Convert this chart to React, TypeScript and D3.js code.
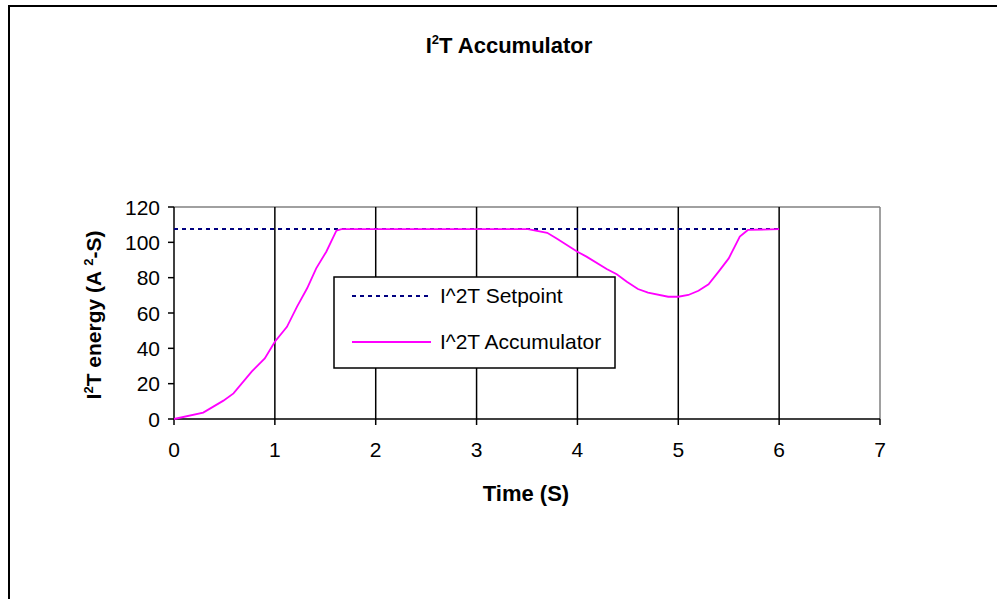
import React from "react";
import * as d3 from "d3";

const timeValues = [0, 0.29, 0.39, 0.49, 0.59, 0.77, 0.9, 1.0, 1.12, 1.22, 1.32, 1.41, 1.51, 1.61, 1.66, 2.0, 3.0, 3.51, 3.7, 3.79, 4.0, 4.09, 4.29, 4.39, 4.49, 4.6, 4.7, 4.9, 5.0, 5.1, 5.2, 5.3, 5.4, 5.5, 5.61, 5.69, 6.0];
const accumulatorValues = [0, 3.6, 7, 10.4, 14.5, 26.8, 34.3, 43.7, 52.2, 63.6, 74, 85.3, 94.7, 106.6, 107.5, 107.5, 107.5, 107.5, 105.4, 102.3, 94.7, 91.9, 84.9, 81.9, 77.7, 73.6, 71.5, 69.2, 69.2, 70.2, 72.6, 76.2, 83.4, 90.9, 103.2, 107, 107.5];
const setpointTimes = [0, 6];
const setpointValues = [107.5, 107.5];
const xTicks = [0, 1, 2, 3, 4, 5, 6, 7];
const yTicks = [0, 20, 40, 60, 80, 100, 120];
const gridTimes = [1, 2, 3, 4, 5, 6];
const seriesNames = ["I^2T Setpoint", "I^2T Accumulator"];

const FONT = "'Liberation Sans', Arial, sans-serif";

export default function App() {
  const left = 174, right = 880, top = 207, bottom = 419;
  const x = d3.scaleLinear().domain([0, 7]).range([left, right]);
  const y = d3.scaleLinear().domain([0, 120]).range([bottom, top]);
  const line = d3.line<[number, number]>().x((d) => x(d[0])).y((d) => y(d[1]));
  const accPts: [number, number][] = timeValues.map((t, i) => [t, accumulatorValues[i]]);
  const setPts: [number, number][] = setpointTimes.map((t, i) => [t, setpointValues[i]]);

  return (
    <svg width={997} height={599} style={{ position: "absolute", left: 0, top: 0 }} fontFamily={FONT}>
      <rect x={0} y={0} width={997} height={599} fill="white" />
      <rect x={9} y={6} width={1100} height={700} fill="none" stroke="black" strokeWidth={2} />
      <text x={509} y={53} textAnchor="middle" fontSize={22} fontWeight="bold">
        I<tspan fontSize={13} dy={-9}>2</tspan><tspan dy={9}>T Accumulator</tspan>
      </text>
      {/* plot frame */}
      <line x1={left} x2={right} y1={top} y2={top} stroke="#808080" strokeWidth={1.5} />
      <line x1={right} x2={right} y1={top} y2={bottom} stroke="#808080" strokeWidth={1.5} />
      {gridTimes.map((t) => (
        <line key={t} x1={x(t)} x2={x(t)} y1={top} y2={bottom} stroke="black" strokeWidth={1.5} />
      ))}
      {/* axes */}
      <line x1={left} x2={left} y1={top} y2={bottom} stroke="black" strokeWidth={1.5} />
      <line x1={left} x2={right} y1={bottom} y2={bottom} stroke="black" strokeWidth={1.5} />
      {yTicks.map((v) => (
        <g key={v}>
          <line x1={left - 6} x2={left} y1={y(v)} y2={y(v)} stroke="black" strokeWidth={1.5} />
          <text x={left - 14} y={y(v) + 7.5} textAnchor="end" fontSize={21}>{v}</text>
        </g>
      ))}
      {xTicks.map((v) => (
        <g key={v}>
          <line x1={x(v)} x2={x(v)} y1={bottom} y2={bottom + 6} stroke="black" strokeWidth={1.5} />
          <text x={x(v)} y={bottom + 38} textAnchor="middle" fontSize={21}>{v}</text>
        </g>
      ))}
      {/* series */}
      <path d={line(setPts) || ""} fill="none" stroke="#000080" strokeWidth={2} strokeDasharray="4,4" />
      <path d={line(accPts) || ""} fill="none" stroke="#FF00FF" strokeWidth={1.8} />
      {/* axis titles */}
      <text x={526} y={501} textAnchor="middle" fontSize={22} fontWeight="bold">Time (S)</text>
      <text transform="translate(101,315) rotate(-90)" textAnchor="middle" fontSize={21} fontWeight="bold">
        I<tspan fontSize={13} dy={-8}>2</tspan><tspan dy={8}>T energy (A </tspan><tspan fontSize={13} dy={-8}>2</tspan><tspan dy={8}>-S)</tspan>
      </text>
      {/* legend */}
      <rect x={334} y={277} width={281} height={91} fill="white" stroke="black" strokeWidth={1.5} />
      <line x1={352} x2={430} y1={296} y2={296} stroke="#000080" strokeWidth={2} strokeDasharray="4,4" />
      <text x={440} y={303} fontSize={21}>{seriesNames[0]}</text>
      <line x1={352} x2={431} y1={342} y2={342} stroke="#FF00FF" strokeWidth={1.8} />
      <text x={440} y={349} fontSize={21}>{seriesNames[1]}</text>
    </svg>
  );
}
